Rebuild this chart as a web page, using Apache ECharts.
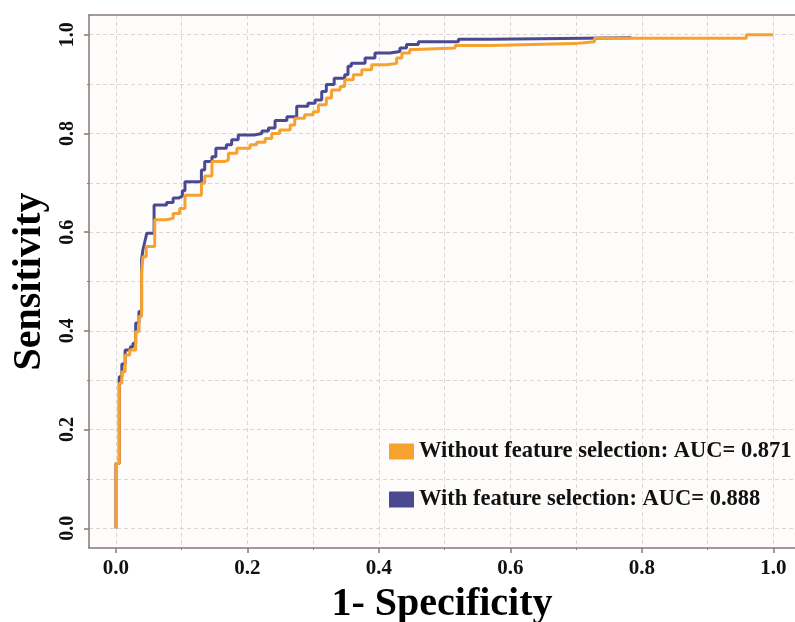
<!DOCTYPE html>
<html>
<head>
<meta charset="utf-8">
<script src="https://cdn.jsdelivr.net/npm/echarts@6/dist/echarts.min.js"></script>
<style>
  html, body { margin: 0; padding: 0; background: #ffffff; }
  #chart { width: 795px; height: 622px; }
</style>
</head>
<body>
<div id="chart"></div>
<script>
// ROC curves of the classifier, with and without feature selection
const seriesNames = [
  'Without feature selection: AUC= 0.871',
  'With feature selection: AUC= 0.888'
];
const seriesColors = ['#f7a12f', '#4a4a92'];

// each point: at this FPR the curve rises to this TPR (horizontal, then vertical step)
const fprWithout = [0, 0, 0.005, 0.009, 0.014, 0.021, 0.030, 0.035, 0.039, 0.041, 0.046, 0.059,
  0.077, 0.087, 0.097, 0.105, 0.130, 0.135, 0.146, 0.165, 0.171, 0.184, 0.204, 0.214, 0.227,
  0.237, 0.249, 0.265, 0.272, 0.287, 0.300, 0.308, 0.320, 0.328, 0.341, 0.348, 0.361, 0.374,
  0.389, 0.412, 0.427, 0.435, 0.447, 0.457, 0.516, 0.571, 0.698, 0.728, 0.959, 1.0];
const tprWithout = [0, 0.131, 0.294, 0.317, 0.351, 0.361, 0.398, 0.429, 0.517, 0.550, 0.571, 0.625,
  0.628, 0.638, 0.648, 0.675, 0.699, 0.714, 0.743, 0.746, 0.760, 0.770, 0.777, 0.782, 0.790,
  0.800, 0.807, 0.817, 0.831, 0.838, 0.844, 0.858, 0.872, 0.888, 0.895, 0.909, 0.919, 0.929,
  0.939, 0.942, 0.953, 0.963, 0.970, 0.973, 0.978, 0.982, 0.986, 0.993, 1.0, 1.0];

const fprWith = [0, 0, 0.005, 0.009, 0.014, 0.022, 0.026, 0.030, 0.035, 0.039, 0.041, 0.044, 0.047,
  0.058, 0.077, 0.087, 0.095, 0.101, 0.105, 0.130, 0.135, 0.146, 0.152, 0.168, 0.176, 0.186,
  0.210, 0.222, 0.232, 0.242, 0.260, 0.275, 0.292, 0.303, 0.313, 0.320, 0.332, 0.348, 0.353,
  0.358, 0.379, 0.394, 0.417, 0.432, 0.442, 0.460, 0.521, 0.571, 0.784];
const tprWith = [0, 0.131, 0.307, 0.333, 0.361, 0.368, 0.375, 0.416, 0.439, 0.544, 0.564, 0.581, 0.598,
  0.655, 0.660, 0.669, 0.673, 0.684, 0.702, 0.726, 0.743, 0.753, 0.770, 0.777, 0.787, 0.797,
  0.800, 0.805, 0.811, 0.826, 0.834, 0.855, 0.861, 0.868, 0.885, 0.899, 0.912, 0.919, 0.936,
  0.942, 0.953, 0.963, 0.966, 0.973, 0.980, 0.986, 0.991, 0.994, 0.994];

const majorTicks = [0, 0.2, 0.4, 0.6, 0.8, 1.0];
const minorTicks = [0.1, 0.3, 0.5, 0.7, 0.9];
const tickLabels = ['0.0', '0.2', '0.4', '0.6', '0.8', '1.0'];

const xTitle = '1- Specificity';
const yTitle = 'Sensitivity';

const zip = (xs, ys) => xs.map((x, i) => [x, ys[i]]);
const labelFor = v => {
  const i = majorTicks.findIndex(t => Math.abs(t - v) < 1e-9);
  return i >= 0 ? tickLabels[i] : '';
};

const serif = '"Liberation Serif", "Times New Roman", serif';
const axisColor = '#857a75';
const gridStyle = { type: [4, 3], color: '#ddd5d1', width: 1 };

const xRange = { min: -0.041, max: 1.033 };
const yRange = { min: -0.04, max: 1.04 };

const chart = echarts.init(document.getElementById('chart'), null, { renderer: 'canvas' });

chart.setOption({
  backgroundColor: '#ffffff',
  animation: false,
  grid: {
    left: 89, right: 0, top: 15, bottom: 74,
    outerBoundsMode: 'none', containLabel: false,
    show: true, backgroundColor: '#fdfcfa', borderWidth: 0
  },
  legend: {
    data: seriesNames,
    orient: 'vertical',
    left: 384, top: 435,
    itemWidth: 25, itemHeight: 16, itemGap: 25,
    icon: 'rect',
    textStyle: { fontFamily: serif, fontWeight: 'bold', fontSize: 22.5, color: '#111' }
  },
  xAxis: [
    {
      type: 'value', position: 'bottom', ...xRange,
      axisLine: { show: true, onZero: false, lineStyle: { color: axisColor, width: 1.5 } },
      axisTick: { show: true, customValues: majorTicks, length: 5, lineStyle: { color: axisColor, width: 1.5 } },
      axisLabel: {
        customValues: majorTicks, formatter: labelFor, margin: 10,
        fontFamily: serif, fontWeight: 'bold', fontSize: 21, color: '#111'
      },
      splitLine: { show: true, lineStyle: gridStyle },
      name: xTitle, nameLocation: 'middle', nameGap: 37,
      nameTextStyle: { fontFamily: serif, fontWeight: 'bold', fontSize: 40, color: '#000' }
    },
    {
      type: 'value', position: 'bottom', ...xRange,
      axisLine: { show: false, onZero: false },
      axisTick: { show: true, customValues: minorTicks, length: 2, lineStyle: { color: axisColor, width: 1 } },
      axisLabel: { show: false },
      splitLine: { show: true, lineStyle: gridStyle }
    },
    {
      type: 'value', position: 'top', ...xRange,
      axisLine: { show: true, onZero: false, lineStyle: { color: axisColor, width: 1.5 } },
      axisTick: { show: false }, axisLabel: { show: false }, splitLine: { show: false }
    }
  ],
  yAxis: [
    {
      type: 'value', position: 'left', ...yRange,
      axisLine: { show: true, onZero: false, lineStyle: { color: axisColor, width: 1.5 } },
      axisTick: { show: true, customValues: majorTicks, length: 5, lineStyle: { color: axisColor, width: 1.5 } },
      axisLabel: {
        customValues: majorTicks, formatter: labelFor, rotate: 90, margin: 11,
        fontFamily: serif, fontWeight: 'bold', fontSize: 20, color: '#111'
      },
      splitLine: { show: true, lineStyle: gridStyle },
      name: yTitle, nameLocation: 'middle', nameRotate: 90, nameGap: 39,
      nameTextStyle: { fontFamily: serif, fontWeight: 'bold', fontSize: 40, color: '#000' }
    },
    {
      type: 'value', position: 'left', ...yRange,
      axisLine: { show: false, onZero: false },
      axisTick: { show: true, customValues: minorTicks, length: 2, lineStyle: { color: axisColor, width: 1 } },
      axisLabel: { show: false },
      splitLine: { show: true, lineStyle: gridStyle }
    }
  ],
  series: [
    {
      name: seriesNames[1], type: 'line', step: 'end',
      xAxisIndex: 0, yAxisIndex: 0,
      data: zip(fprWith, tprWith),
      showSymbol: false, symbol: 'none', z: 3,
      color: seriesColors[1],
      lineStyle: { color: seriesColors[1], width: 3 }
    },
    {
      name: seriesNames[0], type: 'line', step: 'end',
      xAxisIndex: 0, yAxisIndex: 0,
      data: zip(fprWithout, tprWithout),
      showSymbol: false, symbol: 'none', z: 4,
      color: seriesColors[0],
      lineStyle: { color: seriesColors[0], width: 3 }
    }
  ]
});
</script>
</body>
</html>
